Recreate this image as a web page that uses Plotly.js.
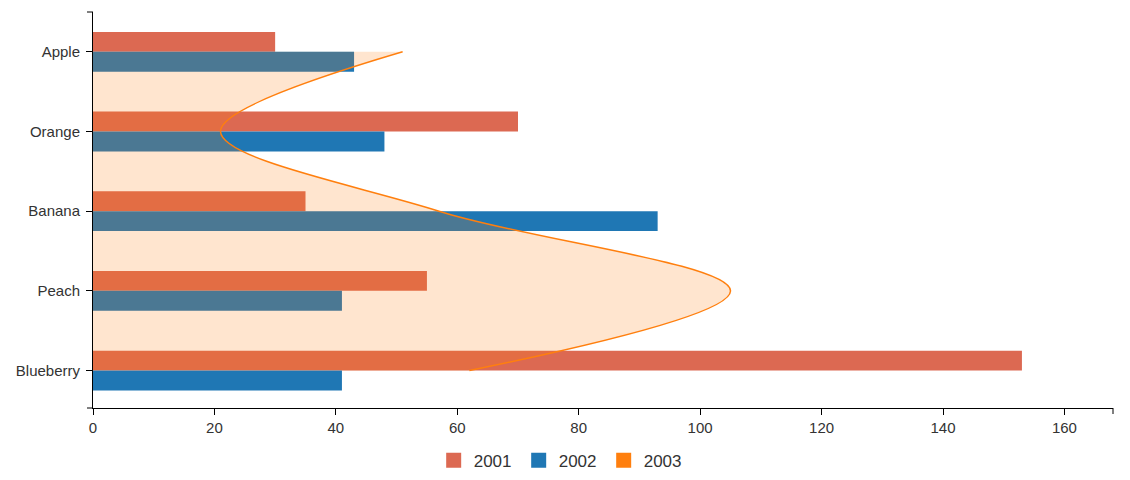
<!DOCTYPE html>
<html>
<head>
<meta charset="utf-8">
<script src="https://cdn.plot.ly/plotly-3.0.1.min.js"></script>
<style>html,body{margin:0;padding:0;background:#fff;}#chart{width:1130px;height:480px;}</style>
</head>
<body>
<div id="chart"></div>
<script>
const categories = ["Apple", "Orange", "Banana", "Peach", "Blueberry"];
const values2001 = [30, 70, 35, 55, 153];
const values2002 = [43, 48, 93, 41, 41];
const values2003 = [51, 21, 57, 105, 62];
const seriesNames = ["2001", "2002", "2003"];
const seriesColors = ["#dc6952", "#1f77b4", "#ff7f0e"];

const font = "Arial, 'Liberation Sans', sans-serif";

const traces = [
  {type: "bar", orientation: "h", name: seriesNames[0], y: categories, x: values2001,
   marker: {color: seriesColors[0]}, showlegend: false, hoverinfo: "skip"},
  {type: "bar", orientation: "h", name: seriesNames[1], y: categories, x: values2002,
   marker: {color: seriesColors[1]}, showlegend: false, hoverinfo: "skip"},
  {type: "scatter", mode: "lines", name: seriesNames[2], y: categories, x: values2003,
   line: {color: seriesColors[2], width: 1.5, shape: "spline", smoothing: 1},
   fill: "tozerox", fillcolor: "rgba(255,127,14,0.2)", showlegend: false, hoverinfo: "skip"}
];
// legend entries
seriesNames.forEach((n, i) => {
  traces.push({type: "scatter", mode: "markers", name: n, x: [null], y: [null],
    marker: {symbol: "square", size: 15, color: seriesColors[i]}, showlegend: true, hoverinfo: "skip"});
});

const layout = {
  width: 1130, height: 480,
  margin: {l: 93, r: 17, t: 12, b: 72},
  paper_bgcolor: "#fff", plot_bgcolor: "#fff",
  font: {family: font, size: 15, color: "#333"},
  barmode: "group", bargap: 0.5, bargroupgap: 0,
  showlegend: true,
  legend: {orientation: "h", x: 0.459, xanchor: "center", yref: "container", y: 0.04, yanchor: "middle",
           entrywidth: 40, entrywidthmode: "pixels",
           font: {size: 17, color: "#333"}},
  xaxis: {range: [0, 168], dtick: 20, tick0: 0, showgrid: false, zeroline: false,
          showline: true, linecolor: "#000", linewidth: 1, ticks: "outside", ticklen: 6,
          tickcolor: "#000", tickfont: {size: 15, color: "#333"}, fixedrange: true},
  yaxis: {type: "category", range: [4.47, -0.5], showgrid: false, zeroline: false,
          showline: true, linecolor: "#000", linewidth: 1, ticks: "outside", ticklen: 6,
          ticklabelstandoff: 3,
          tickcolor: "#000", tickfont: {size: 15, color: "#333"}, fixedrange: true},
  shapes: [
    {type: "line", xref: "paper", yref: "paper", xsizemode: "pixel", xanchor: 0,
     x0: -6, x1: 0, y0: 1, y1: 1, line: {color: "#000", width: 1}},
    {type: "line", xref: "paper", yref: "paper", xsizemode: "pixel", xanchor: 0,
     x0: -6, x1: 0, y0: 0, y1: 0, line: {color: "#000", width: 1}},
    {type: "line", xref: "paper", yref: "paper", ysizemode: "pixel", yanchor: 0,
     x0: 1, x1: 1, y0: 0, y1: -6, line: {color: "#000", width: 1}}
  ]
};

Plotly.newPlot("chart", traces, layout, {displayModeBar: false, staticPlot: true});
</script>
</body>
</html>
